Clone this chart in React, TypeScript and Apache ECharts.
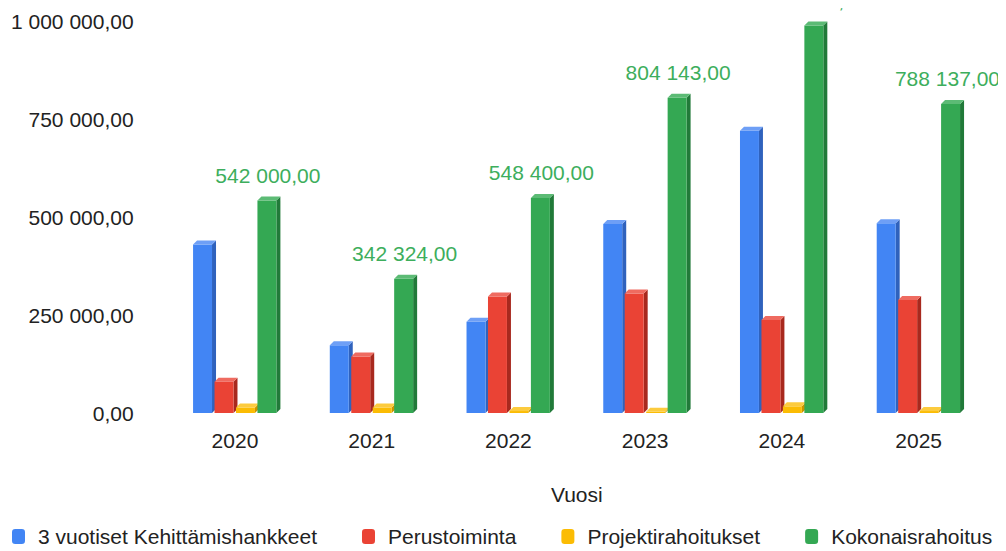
import React, { useEffect, useRef } from "react";
import * as echarts from "echarts";

const years = ["2020", "2021", "2022", "2023", "2024", "2025"];
const seriesNames = [
  "3 vuotiset Kehittämishankkeet",
  "Perustoiminta",
  "Projektirahoitukset",
  "Kokonaisrahoitus",
];
const kehittamis = [430000, 173000, 233000, 482000, 720000, 484000];
const perustoiminta = [80000, 144000, 297000, 305000, 237000, 288000];
const projekti = [14000, 14000, 5000, 3000, 17000, 5000];
const kokonais = [542000, 342324, 548400, 804143, 988246, 788137];
const yTicks = [0, 250000, 500000, 750000, 1000000];

const faceColors = [
  { front: "#4285F4", side: "#2F62BD", top: "#6E9FF6" },
  { front: "#EA4335", side: "#A8291E", top: "#EF6B60" },
  { front: "#FBBC04", side: "#C99400", top: "#FCCB3E" },
  { front: "#34A853", side: "#217A39", top: "#5CBB75" },
];

function fmt(v: number): string {
  const fixed = v.toFixed(2);
  const [intPart, dec] = fixed.split(".");
  const grouped = intPart.replace(/\B(?=(\d{3})+(?!\d))/g, " ");
  return grouped + "," + dec;
}

export default function App() {
  const ref = useRef<HTMLDivElement>(null);
  useEffect(() => {
    if (!ref.current) return;
    const chart = echarts.init(ref.current, undefined, { renderer: "svg" });
    const allData = [kehittamis, perustoiminta, projekti, kokonais];
    const font = "Liberation Sans, Arial, sans-serif";
    const labelFont = "21px " + font;
    const ctx = document.createElement("canvas").getContext("2d");
    const measure = (t: string) => {
      if (!ctx) return t.length * 10.5;
      ctx.font = labelFont;
      return ctx.measureText(t).width;
    };
    const rightLimit = 992;

    const makeRender = (i: number) => (params: any, api: any) => {
      const idx = api.value(0);
      const val = api.value(1);
      const base = api.coord([idx, 0]);
      const top = api.coord([idx, val]);
      const band = api.size([1, 0])[0];
      const s = band / 137;
      const bw = 19 * s;
      const step = 21.5 * s;
      const x0 = base[0] - 42 * s + i * step;
      const yb = base[1];
      const yt = Math.min(top[1], yb - 1);
      const d = 4;
      const c = faceColors[i];
      const children: any[] = [
        {
          type: "polygon",
          shape: {
            points: [
              [x0 + bw, yt],
              [x0 + bw + d, yt - d],
              [x0 + bw + d, yb - d],
              [x0 + bw, yb],
            ],
          },
          style: { fill: c.side },
        },
        {
          type: "rect",
          shape: { x: x0, y: yt, width: bw, height: yb - yt },
          style: { fill: c.front },
        },
        {
          type: "polygon",
          shape: {
            points: [
              [x0, yt],
              [x0 + d, yt - d],
              [x0 + bw + d, yt - d],
              [x0 + bw, yt],
            ],
          },
          style: { fill: c.top },
        },
      ];
      if (i === 3) {
        const txt = fmt(val);
        const w = measure(txt);
        let cx = x0 + bw / 2 + 1;
        if (cx + w / 2 > rightLimit) cx = rightLimit - w / 2;
        children.push({
          type: "text",
          x: cx,
          y: yt - d - 11,
          style: {
            text: txt,
            fill: "#3DAE5C",
            font: labelFont,
            textAlign: "center",
            textVerticalAlign: "bottom",
          },
        });
      }
      return { type: "group", children };
    };

    chart.setOption({
      animation: false,
      grid: { left: 158, right: 19, top: 21, bottom: 138 },
      xAxis: {
        type: "category",
        data: years,
        name: "Vuosi",
        nameLocation: "middle",
        nameGap: 71,
        nameTextStyle: { fontSize: 21, color: "#222", fontFamily: font },
        axisLine: { show: false },
        axisTick: { show: false },
        axisLabel: { fontSize: 21, color: "#222", margin: 17, fontFamily: font },
      },
      yAxis: {
        type: "value",
        min: yTicks[0],
        max: yTicks[yTicks.length - 1],
        interval: yTicks[1] - yTicks[0],
        splitLine: { show: false },
        axisLine: { show: false },
        axisTick: { show: false },
        axisLabel: {
          fontSize: 21,
          color: "#222",
          margin: 33,
          fontFamily: font,
          formatter: (v: number) => fmt(v),
        },
      },
      legend: {
        top: 526,
        left: 4,
        right: 0,
        padding: 0,
        itemWidth: 13,
        itemHeight: 15,
        itemGap: 45,
        icon: "roundRect",
        textStyle: { fontSize: 21, color: "#222", fontFamily: font, padding: [0, 0, 0, 8] },
        data: seriesNames,
      },
      series: allData.map((arr, i) => ({
        type: "custom",
        name: seriesNames[i],
        itemStyle: { color: faceColors[i].front },
        encode: { x: 0, y: 1 },
        clip: false,
        renderItem: makeRender(i),
        data: arr.map((v, k) => [k, v]),
      })),
    });
    return () => chart.dispose();
  }, []);
  return <div ref={ref} style={{ width: 998, height: 551, marginTop: -8 }} />;
}
